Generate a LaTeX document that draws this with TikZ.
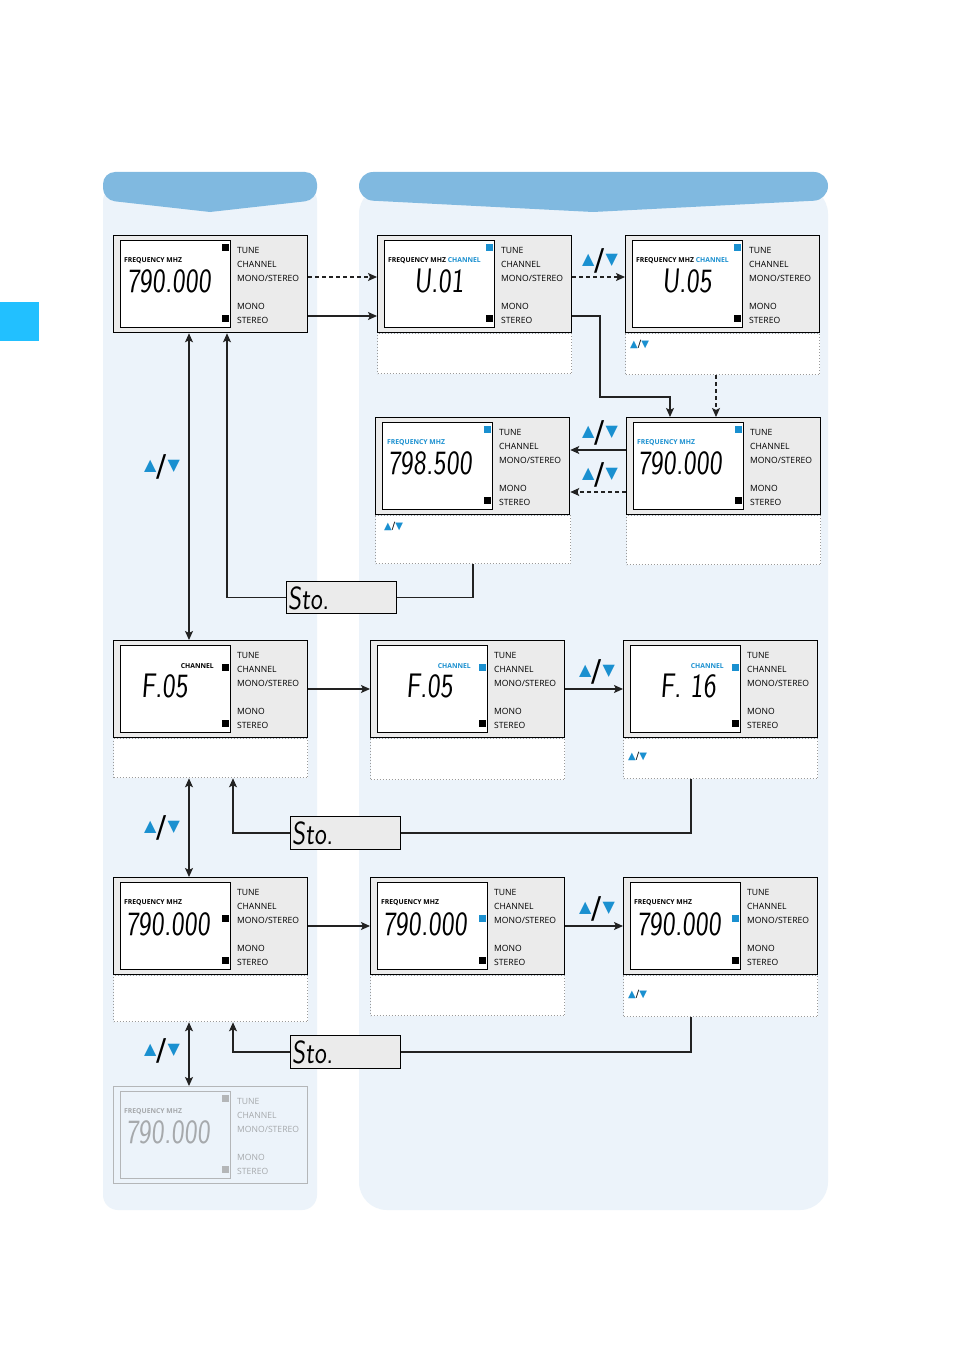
\documentclass[tikz,border=0pt]{standalone}
\usepackage{fontspec}
\usetikzlibrary{arrows.meta,calc}
\newfontfamily\labfont{Open Sans}
\newfontfamily\symfont{DejaVu Sans}
\newfontfamily\lcdfont{Latin Modern Sans}[FakeSlant=0.1]
\definecolor{bgc}{HTML}{ECF3FA}
\definecolor{hdr}{HTML}{80B9E0}
\definecolor{tabc}{HTML}{22C0FF}
\definecolor{ublue}{HTML}{1A90D0}
\definecolor{ugray}{HTML}{EBEBEB}
\definecolor{fadetxt}{HTML}{A6A9AC}
\definecolor{fadeln}{HTML}{B4B6B8}
\definecolor{dotc}{HTML}{9A9A9A}
\definecolor{lnc}{HTML}{222222}
\newcommand\lcd[1]{\scalebox{0.8}[1]{#1}}
\newcommand\bigud{{\symfont\fontsize{16}{16}\selectfont\textcolor{ublue}{▲}\kern0.5pt\raisebox{-6pt}{\fontsize{30}{30}\selectfont /}\kern0.5pt\textcolor{ublue}{▼}}}
\newcommand\smallud{{\symfont\fontsize{10}{10}\selectfont\textcolor{ublue}{▲}/\textcolor{ublue}{▼}}}
\tikzset{
  unitbox/.style={draw=black, line width=1.3pt, fill=ugray, minimum width=194pt, minimum height=97pt, inner sep=0pt, anchor=north west},
  lcdbox/.style={draw=black, line width=1.1pt, fill=white, minimum width=110pt, minimum height=87pt, inner sep=0pt, anchor=north west},
  notebox/.style={draw=dotc, dotted, line width=1pt, fill=white, inner sep=0pt, anchor=north west},
  lab/.style={font=\labfont\fontsize{8.6}{9}\selectfont, inner sep=0pt, anchor=west},
  toplab/.style={font=\labfont\bfseries\fontsize{6.8}{7}\selectfont, inner sep=0pt, anchor=west},
  digits/.style={font=\lcdfont\fontsize{34}{34}\selectfont, inner sep=0pt, anchor=base west},
  sq/.style={fill=black, minimum size=7.5pt, inner sep=0pt},
  stobox/.style={draw=black, line width=1.1pt, fill=ugray, minimum width=110pt, minimum height=32pt, inner sep=0pt, anchor=north west},
  conn/.style={line width=1.2pt, draw=lnc},
  arr/.style={conn, -{Stealth[length=9pt,width=8pt,inset=2pt]}},
  dbl/.style={conn, {Stealth[length=9pt,width=8pt,inset=2pt]}-{Stealth[length=9pt,width=8pt,inset=2pt]}},
  dsh/.style={dash pattern=on 4pt off 3pt},
  sym/.style={inner sep=0pt}
}
% name, x, y, text colour, line colour, box fill, lcd fill, square colour
\newcommand\unitframe[8]{%
  \node[unitbox, draw=#5, fill=#6] (#1) at (#2,#3) {};
  \node[lcdbox, draw=#5, fill=#7] (#1l) at ($(#1.north west)+(7,5)$) {};
  \node[lab, text=#4] (#1a) at ($(#1.north west)+(124,15)$) {TUNE};
  \node[lab, text=#4] (#1b) at ($(#1.north west)+(124,29)$) {CHANNEL};
  \node[lab, text=#4] (#1c) at ($(#1.north west)+(124,43)$) {MONO/STEREO};
  \node[lab, text=#4] (#1d) at ($(#1.north west)+(124,71)$) {MONO};
  \node[lab, text=#4] (#1e) at ($(#1.north west)+(124,85)$) {STEREO};
  \node[sq, fill=#8] (#1s) at ($(#1.north west)+(112.5,83.5)$) {};
}
\newcommand\stdunit[3]{\unitframe{#1}{#2}{#3}{black}{black}{ugray}{white}{black}}
\begin{document}
\begin{tikzpicture}[x=1pt,y=-1pt]
\useasboundingbox (0,0) rectangle (954,1351);
\fill[white] (0,0) rectangle (954,1351);
% side tab
\fill[tabc] (0,302) rectangle (39,341);
% column backgrounds
\fill[bgc, rounded corners=15] (103,186) -- (103,1210) -- (317,1210) -- (317,186) -- cycle;
\fill[bgc, rounded corners=28] (359,186) -- (359,1210) -- (828,1210) -- (828,186) -- cycle;
% headers
\fill[hdr] (210,212) [rounded corners=12] -- (103,200) -- (103,172) -- (317,172) -- (317,200) [sharp corners] -- cycle;
\fill[hdr] (593,212) [rounded corners=14] -- (359,200) -- (359,172) -- (828,172) -- (828,200) [sharp corners] -- cycle;

% ---------- units ----------
\stdunit{u1}{113}{235}
\node[sq] (u1q) at ($(u1.north west)+(112.5,12.5)$) {};
\node[toplab] (u1f) at ($(u1.north west)+(11,26)$) {FREQUENCY MHZ};
\node[digits] (u1v) at ($(u1.north west)+(14,57)$) {\lcd{790.000}};

\stdunit{u2}{377}{235}
\node[sq, fill=ublue] (u2q) at ($(u2.north west)+(112.5,12.5)$) {};
\node[toplab] (u2f) at ($(u2.north west)+(11,26)$) {FREQUENCY MHZ \textcolor{ublue}{CHANNEL}};
\node[digits] (u2v) at ($(u2.north west)+(37,57)$) {\lcd{U.01}};
\node[notebox, minimum width=194pt, minimum height=40pt] (u2n) at (u2.south west) {};

\stdunit{u3}{625}{235}
\node[sq, fill=ublue] (u3q) at ($(u3.north west)+(112.5,12.5)$) {};
\node[toplab] (u3f) at ($(u3.north west)+(11,26)$) {FREQUENCY MHZ \textcolor{ublue}{CHANNEL}};
\node[digits] (u3v) at ($(u3.north west)+(37,57)$) {\lcd{U.05}};
\node[notebox, minimum width=194pt, minimum height=41pt] (u3n) at (u3.south west) {};
\node[sym, anchor=west] (u3s) at ($(u3n.north west)+(5,11)$) {\smallud};

\stdunit{u4}{375}{417}
\node[sq, fill=ublue] (u4q) at ($(u4.north west)+(112.5,12.5)$) {};
\node[toplab, text=ublue] (u4f) at ($(u4.north west)+(12,26)$) {FREQUENCY MHZ};
\node[digits] (u4v) at ($(u4.north west)+(13,57)$) {\lcd{798.500}};
\node[notebox, minimum width=195pt, minimum height=48pt] (u4n) at (u4.south west) {};
\node[sym, anchor=west] (u4s) at ($(u4n.north west)+(9,11)$) {\smallud};

\stdunit{u5}{626}{417}
\node[sq, fill=ublue] (u5q) at ($(u5.north west)+(112.5,12.5)$) {};
\node[toplab, text=ublue] (u5f) at ($(u5.north west)+(11,26)$) {FREQUENCY MHZ};
\node[digits] (u5v) at ($(u5.north west)+(12,57)$) {\lcd{790.000}};
\node[notebox, minimum width=194pt, minimum height=49pt] (u5n) at (u5.south west) {};

\stdunit{u6}{113}{640}
\node[sq] (u6q) at ($(u6.north west)+(112.5,27.5)$) {};
\node[toplab, anchor=east] (u6f) at ($(u6.north west)+(101,26)$) {CHANNEL};
\node[digits] (u6v) at ($(u6.north west)+(28,57)$) {\lcd{F.05}};
\node[notebox, minimum width=194pt, minimum height=39pt] (u6n) at (u6.south west) {};

\stdunit{u7}{370}{640}
\node[sq, fill=ublue] (u7q) at ($(u7.north west)+(112.5,27.5)$) {};
\node[toplab, anchor=east, text=ublue] (u7f) at ($(u7.north west)+(101,26)$) {CHANNEL};
\node[digits] (u7v) at ($(u7.north west)+(36,57)$) {\lcd{F.05}};
\node[notebox, minimum width=194pt, minimum height=41pt] (u7n) at (u7.south west) {};

\stdunit{u8}{623}{640}
\node[sq, fill=ublue] (u8q) at ($(u8.north west)+(112.5,27.5)$) {};
\node[toplab, anchor=east, text=ublue] (u8f) at ($(u8.north west)+(101,26)$) {CHANNEL};
\node[digits] (u8v) at ($(u8.north west)+(37,57)$) {\lcd{F. 16}};
\node[notebox, minimum width=194pt, minimum height=40pt] (u8n) at (u8.south west) {};
\node[sym, anchor=west] (u8s) at ($(u8n.north west)+(5,18)$) {\smallud};

\stdunit{u9}{113}{877}
\node[sq] (u9q) at ($(u9.north west)+(112.5,41.5)$) {};
\node[toplab] (u9f) at ($(u9.north west)+(11,26)$) {FREQUENCY MHZ};
\node[digits] (u9v) at ($(u9.north west)+(13,58)$) {\lcd{790.000}};
\node[notebox, minimum width=194pt, minimum height=46pt] (u9n) at (u9.south west) {};

\stdunit{u10}{370}{877}
\node[sq, fill=ublue] (u10q) at ($(u10.north west)+(112.5,41.5)$) {};
\node[toplab] (u10f) at ($(u10.north west)+(11,26)$) {FREQUENCY MHZ};
\node[digits] (u10v) at ($(u10.north west)+(13,58)$) {\lcd{790.000}};
\node[notebox, minimum width=194pt, minimum height=40pt] (u10n) at (u10.south west) {};

\stdunit{u11}{623}{877}
\node[sq, fill=ublue] (u11q) at ($(u11.north west)+(112.5,41.5)$) {};
\node[toplab] (u11f) at ($(u11.north west)+(11,26)$) {FREQUENCY MHZ};
\node[digits] (u11v) at ($(u11.north west)+(14,58)$) {\lcd{790.000}};
\node[notebox, minimum width=194pt, minimum height=41pt] (u11n) at (u11.south west) {};
\node[sym, anchor=west] (u11s) at ($(u11n.north west)+(5,19)$) {\smallud};

\unitframe{u12}{113}{1086}{fadetxt}{fadeln}{bgc}{bgc}{fadeln}
\node[sq, fill=fadeln] (u12q) at ($(u12.north west)+(112.5,12.5)$) {};
\node[toplab, text=fadetxt] (u12f) at ($(u12.north west)+(11,26)$) {FREQUENCY MHZ};
\node[digits, text=fadetxt] (u12v) at ($(u12.north west)+(13,57)$) {\lcd{790.000}};

% ---------- Sto boxes ----------
\node[stobox] (sto1) at (286,581) {};
\node[digits, font=\lcdfont\fontsize{32}{32}\selectfont] (sto1t) at ($(sto1.north west)+(2,28)$) {\lcd{Sto.}};
\node[stobox, minimum height=33pt] (sto2) at (290,816) {};
\node[digits, font=\lcdfont\fontsize{32}{32}\selectfont] (sto2t) at ($(sto2.north west)+(2,28)$) {\lcd{Sto.}};
\node[stobox, minimum height=33pt] (sto3) at (290,1035) {};
\node[digits, font=\lcdfont\fontsize{32}{32}\selectfont] (sto3t) at ($(sto3.north west)+(2,28)$) {\lcd{Sto.}};

% ---------- connectors ----------
\draw[arr, dsh] ([yshift=-42pt]u1.north east) -- ([yshift=-42pt]u2.north west);
\draw[arr] ([yshift=-81pt]u1.north east) -- ([yshift=-81pt]u2.north west);
\draw[arr, dsh] ([yshift=-42pt]u2.north east) -- ([yshift=-42pt]u3.north west);
\node[sym] (s1) at (600,261) {\bigud};
\coordinate (k1) at (600,397);
\draw[arr] ([yshift=-81pt]u2.north east) -| (k1) -| ([xshift=44pt]u5.north west);
\draw[arr, dsh] ([xshift=91pt]u3n.south west) -- ([xshift=90pt]u5.north west);
\draw[arr] ([yshift=-33pt]u5.north west) -- ([yshift=-33pt]u4.north east);
\node[sym] (s2) at (600,433) {\bigud};
\draw[arr, dsh] ([yshift=-75pt]u5.north west) -- ([yshift=-75pt]u4.north east);
\node[sym] (s3) at (600,475) {\bigud};
\draw[conn] ([xshift=98pt]u4n.south west) |- (sto1.east);
\draw[arr] (sto1.west) -| ([xshift=114pt]u1.south west);
\draw[dbl] ([xshift=76pt]u1.south west) -- ([xshift=76pt]u6.north west);
\node[sym] (s4) at (162,467) {\bigud};

\draw[arr] ([yshift=-49pt]u6.north east) -- ([yshift=-49pt]u7.north west);
\draw[arr] ([yshift=-49pt]u7.north east) -- ([yshift=-49pt]u8.north west);
\node[sym] (s5) at (597,672) {\bigud};
\draw[conn] ([xshift=68pt]u8n.south west) |- (sto2.east);
\draw[arr] (sto2.west) -| ([xshift=120pt]u6n.south west);
\draw[dbl] ([xshift=76pt]u6n.south west) -- ([xshift=76pt]u9.north west);
\node[sym] (s6) at (162,828) {\bigud};

\draw[arr] ([yshift=-49pt]u9.north east) -- ([yshift=-49pt]u10.north west);
\draw[arr] ([yshift=-49pt]u10.north east) -- ([yshift=-49pt]u11.north west);
\node[sym] (s7) at (597,909) {\bigud};
\draw[conn] ([xshift=68pt]u11n.south west) |- (sto3.east);
\draw[arr] (sto3.west) -| ([xshift=120pt]u9n.south west);
\draw[dbl] ([xshift=76pt]u9n.south west) -- ([xshift=76pt]u12.north west);
\node[sym] (s8) at (162,1051) {\bigud};
\end{tikzpicture}
\end{document}
